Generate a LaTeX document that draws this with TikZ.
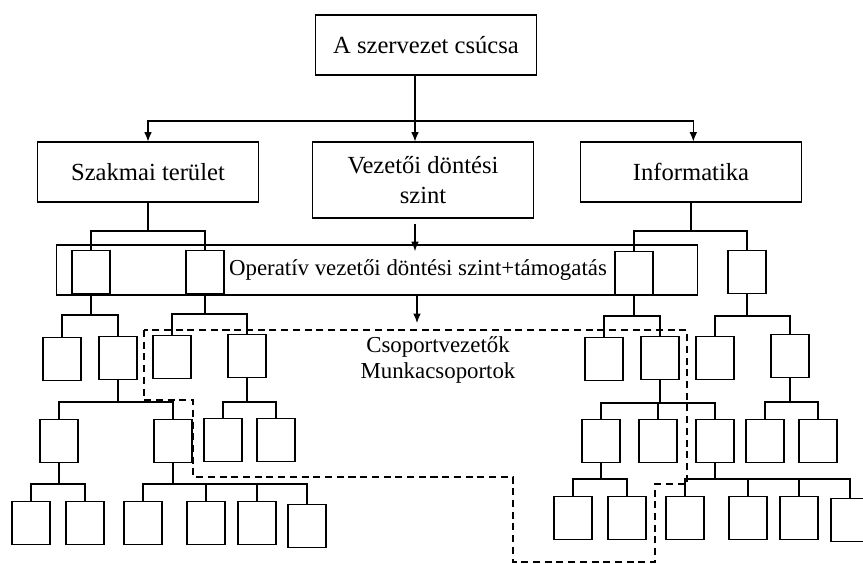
\documentclass[tikz,border=0pt]{standalone}
\usepackage{fontspec}
\setmainfont{Liberation Serif}
\usetikzlibrary{arrows.meta}

\begin{document}
\begin{tikzpicture}[
    x=0.03cm, y=-0.03cm,
    head/.style={rectangle, draw, line width=0.9pt, minimum width=6.63cm, minimum height=1.8cm, inner sep=0pt, align=center, font=\fontsize{21}{25}\selectfont},
    unit/.style={rectangle, draw, line width=0.9pt, minimum width=1.14cm, minimum height=1.29cm, inner sep=0pt},
    opframe/.style={rectangle, draw, line width=1.6pt, minimum width=19.23cm, minimum height=1.5cm, inner sep=0pt},
    label/.style={align=center, inner sep=0pt, font=\fontsize{19.5}{23}\selectfont},
    link/.style={line width=0.9pt},
    arrow/.style={-{Latex[length=8pt,width=6.5pt]}, line width=0.9pt},
    group/.style={dashed, dash pattern=on 6pt off 4pt, line width=1.3pt}
]
\useasboundingbox (0,0) rectangle (863,564);

% Top levels
\node[head] (top) at (426,45) {A szervezet csúcsa};
\node[head] (szak) at (148,172) {Szakmai terület};
\node[head, minimum height=2.28cm] (vez) at (423,180) {Vezetői döntési\\szint};
\node[head] (info) at (691,172) {Informatika};
\coordinate (spine) at (415,121);

% Operative level
\node[opframe] (op) at (377,270) {};
\node[label] (optext) at (418,270) {Operatív vezetői döntési szint+támogatás};
\node[unit] (o1) at (91,272) {};
\node[unit] (o2) at (205,272) {};
\node[unit] (o3) at (634,273) {};
\node[unit] (o4) at (747,272) {};

% Third row
\node[unit] (a) at (62,359) {};
\node[unit] (b) at (118,358) {};
\node[unit] (c) at (172,357) {};
\node[unit] (d) at (247,356) {};
\node[unit] (p1) at (604,359) {};
\node[unit] (p2) at (660,358) {};
\node[unit] (p3) at (715,358) {};
\node[unit] (p4) at (790,356) {};

% Fourth row
\node[unit] (e) at (59,441) {};
\node[unit] (f) at (173,441) {};
\node[unit] (g) at (223,440) {};
\node[unit] (h) at (276,440) {};
\node[unit] (s) at (601,441) {};
\node[unit] (t) at (658,441) {};
\node[unit] (u) at (715,441) {};
\node[unit] (v) at (765,441) {};
\node[unit] (w) at (818,441) {};

% Bottom row
\node[unit] (i) at (31,523) {};
\node[unit] (j) at (85,523) {};
\node[unit] (k) at (143,523) {};
\node[unit] (l) at (206,523) {};
\node[unit] (m) at (257,523) {};
\node[unit] (n) at (307,526) {};
\node[unit] (x1) at (573,518) {};
\node[unit] (x2) at (627,518) {};
\node[unit] (z1) at (685,518) {};
\node[unit] (z2) at (748,518) {};
\node[unit] (z3) at (799,518) {};
\node[unit] (z4) at (850,520) {};

% Group of team leaders
\draw[group] (144,330) -- (144,400) -- (193,400) -- (193,477) -- (513,477) -- (513,562)
    -- (655,562) -- (655,484) -- (687,484) -- (687,330) -- cycle;
\coordinate (grptop) at (417,330);
\node[label] (grp) at (438,360) {Csoportvezetők\\Munkacsoportok};

% Arrows
\draw[arrow] (top.south -| spine) -- (vez.north -| spine);
\draw[arrow] (spine) -| (szak.north);
\draw[arrow] (spine) -| ([xshift=2pt]info.north);
\draw[arrow, shorten <=5pt, shorten >=-6pt] (vez.south -| spine) -- (op.north -| spine);
\draw[arrow, shorten >=6pt] (op.south -| grptop) -- (grptop);

% Links
\draw[link] (szak.south) -- (szak.south |- 0,231) -| (o1.north);
\draw[link] (szak.south |- 0,231) -| (o2.north);
\draw[link] (info.south) -- (info.south |- 0,231) -| (o3.north);
\draw[link] (info.south |- 0,231) -| (o4.north);

\draw[link] (o1.south) -- (o1.south |- 0,315) -| (a.north);
\draw[link] (o1.south |- 0,315) -| (b.north);
\draw[link] (o2.south) -- (o2.south |- 0,314) -| (c.north);
\draw[link] (o2.south |- 0,314) -| (d.north);
\draw[link] (o3.south) -- (o3.south |- 0,316) -| (p1.north);
\draw[link] (o3.south |- 0,316) -| (p2.north);
\draw[link] (o4.south) -- (o4.south |- 0,316) -| (p3.north);
\draw[link] (o4.south |- 0,316) -| (p4.north);

\draw[link] (b.south) -- (b.south |- 0,402) -| (e.north);
\draw[link] (b.south |- 0,402) -| (f.north);
\draw[link] (d.south) -- (d.south |- 0,402) -| (g.north);
\draw[link] (d.south |- 0,402) -| (h.north);
\draw[link] (p2.south) -- (p2.south |- 0,403) -| (s.north);
\draw[link] (p2.south |- 0,403) -| (t.north);
\draw[link] (p2.south |- 0,403) -| (u.north);
\draw[link] (p4.south) -- (p4.south |- 0,402) -| (v.north);
\draw[link] (p4.south |- 0,402) -| (w.north);

\draw[link] (e.south) -- (e.south |- 0,484) -| (i.north);
\draw[link] (e.south |- 0,484) -| (j.north);
\draw[link] (f.south) -- (f.south |- 0,484) -| (k.north);
\draw[link] (f.south |- 0,484) -| (l.north);
\draw[link] (f.south |- 0,484) -| (m.north);
\draw[link] (f.south |- 0,484) -| (n.north);
\draw[link] (s.south) -- (s.south |- 0,479) -| (x1.north);
\draw[link] (s.south |- 0,479) -| (x2.north);
\draw[link] (u.south) -- (u.south |- 0,479) -| (z1.north);
\draw[link] (u.south |- 0,479) -| (z2.north);
\draw[link] (u.south |- 0,479) -| (z3.north);
\draw[link] (u.south |- 0,479) -| (z4.north);

\end{tikzpicture}
\end{document}
